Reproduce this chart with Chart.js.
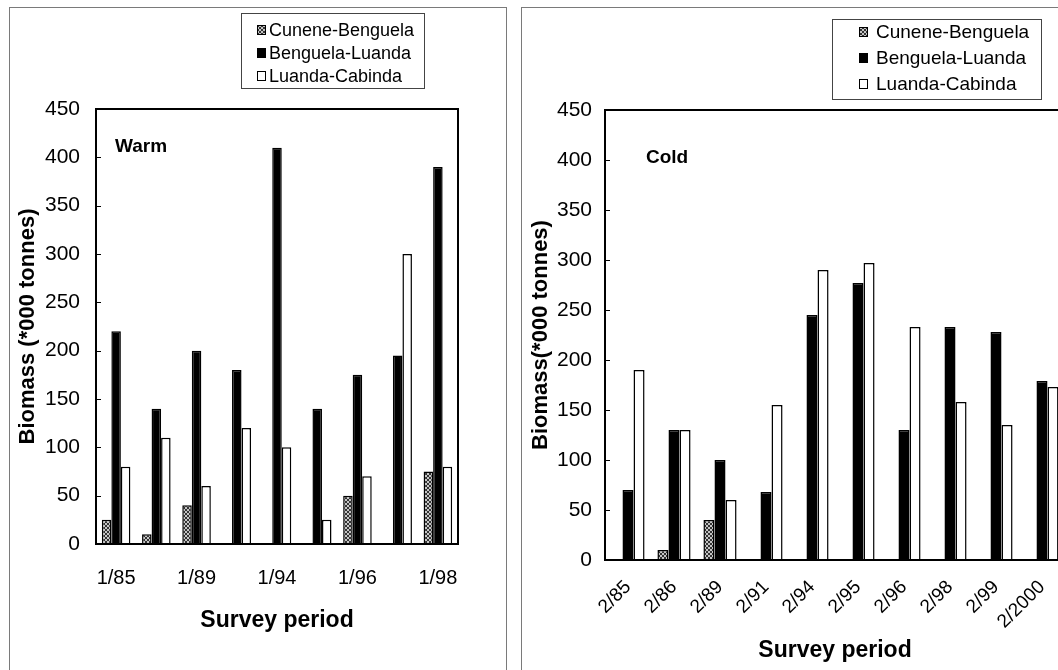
<!DOCTYPE html>
<html>
<head>
<meta charset="utf-8">
<script src="https://cdn.jsdelivr.net/npm/chart.js@4.4.1/dist/chart.umd.min.js"></script>
<style>
  html, body { margin: 0; padding: 0; background: #fff; width: 1058px; height: 670px; overflow: hidden; position: relative; }
  .panel { position: absolute; border: 1px solid #7a7a7a; border-bottom: none; }
  canvas { position: absolute; top: 0; }
</style>
</head>
<body>
<div class="panel" style="left:9px; top:7px; width:496px; height:700px;"></div>
<div class="panel" style="left:521px; top:7px; width:600px; height:700px; border-right:none;"></div>
<canvas id="chartWarm" width="515" height="670" style="left:0"></canvas>
<canvas id="chartCold" width="560" height="670" style="left:515px"></canvas>
<script>
// series names shared by both panels
var seriesNames = ['Cunene-Benguela', 'Benguela-Luanda', 'Luanda-Cabinda'];

// warm season surveys (only every second period is labelled on the axis)
var warmLabels = ['1/85', '', '1/89', '', '1/94', '', '1/96', '', '1/98'];
var warmCunene = [25, 10, 40, 0, 0, 0, 50, 0, 75];
var warmBenguela = [220, 140, 200, 180, 410, 140, 175, 195, 390];
var warmLuanda = [80, 110, 60, 120, 100, 25, 70, 300, 80];

// cold season surveys
var coldLabels = ['2/85', '2/86', '2/89', '2/91', '2/94', '2/95', '2/96', '2/98', '2/99', '2/2000'];
var coldCunene = [0, 10, 40, 0, 0, 0, 0, 0, 0, 0];
var coldBenguela = [70, 130, 100, 68, 245, 277, 130, 233, 228, 179];
var coldLuanda = [190, 130, 60, 155, 290, 297, 233, 158, 135, 173];

// biomass axis
var yMin = 0;
var yMax = 450;
var yStep = 50;

Chart.defaults.font.family = '"Liberation Sans", Arial, sans-serif';
Chart.defaults.color = '#000';

function makeHatch() {
    var c = document.createElement('canvas');
    c.width = 4;
    c.height = 4;
    var g = c.getContext('2d');
    g.fillStyle = '#c4c4c4';
    g.fillRect(0, 0, 4, 4);
    g.fillStyle = '#333';
    for (var i = 0; i < 4; i++) {
        g.fillRect(i, i, 1, 1);
        g.fillRect(3 - i, i, 1, 1);
    }
    return g.createPattern(c, 'repeat');
}

var hatch = makeHatch();

// box round the plot, small inward ticks and the season tag
var framePlugin = {
    id: 'frame',
    afterDatasetsDraw: function(chart, args, opts) {
        var ctx = chart.ctx;
        var a = chart.chartArea;
        var y = chart.scales.y;
        ctx.save();
        ctx.strokeStyle = '#000';
        ctx.lineWidth = 2;
        ctx.strokeRect(a.left, a.top, a.right - a.left, a.bottom - a.top);
        ctx.lineWidth = 1;
        for (var v = yMin; v <= yMax; v += yStep) {
            var py = Math.round(y.getPixelForValue(v)) + 0.5;
            ctx.beginPath();
            ctx.moveTo(a.left, py);
            ctx.lineTo(a.left + 5, py);
            ctx.stroke();
        }
        ctx.font = 'bold 19px "Liberation Sans", Arial, sans-serif';
        ctx.fillStyle = '#000';
        ctx.textBaseline = 'middle';
        ctx.fillText(opts.text, opts.x, opts.y);
        ctx.restore();
    }
};

// legend in a bordered box, one series per row
var legendBoxPlugin = {
    id: 'legendBox',
    afterDraw: function(chart, args, opts) {
        var ctx = chart.ctx;
        ctx.save();
        ctx.fillStyle = '#fff';
        ctx.fillRect(opts.x, opts.y, opts.w, opts.h);
        ctx.strokeStyle = '#444';
        ctx.lineWidth = 1;
        ctx.strokeRect(opts.x + 0.5, opts.y + 0.5, opts.w, opts.h);
        ctx.font = opts.size + 'px "Liberation Sans", Arial, sans-serif';
        ctx.textBaseline = 'middle';
        chart.data.datasets.forEach(function(ds, i) {
            var cy = opts.firstRow + i * opts.rowH;
            ctx.fillStyle = ds.backgroundColor;
            ctx.fillRect(opts.markX, cy - 5, 9, 10);
            ctx.strokeStyle = '#000';
            ctx.strokeRect(opts.markX + 0.5, cy - 4.5, 8, 9);
            ctx.fillStyle = '#000';
            ctx.fillText(ds.label, opts.textX, cy + 1);
        });
        ctx.restore();
    }
};

function buildChart(canvasId, labels, cunene, benguela, luanda, cfg) {
    var datasets = [
        { label: seriesNames[0], data: cunene, backgroundColor: hatch },
        { label: seriesNames[1], data: benguela, backgroundColor: '#000' },
        { label: seriesNames[2], data: luanda, backgroundColor: '#fff' }
    ];
    datasets.forEach(function(ds) {
        ds.borderColor = '#000';
        ds.borderWidth = 1.5;
        ds.barPercentage = 1.0;
        ds.categoryPercentage = cfg.groupWidth;
    });

    return new Chart(document.getElementById(canvasId), {
        type: 'bar',
        data: { labels: labels, datasets: datasets },
        options: {
            responsive: false,
            animation: false,
            layout: { padding: cfg.padding },
            plugins: {
                legend: { display: false },
                tooltip: { enabled: false },
                frame: cfg.tag,
                legendBox: cfg.legend
            },
            scales: {
                x: {
                    grid: { display: false },
                    border: { display: false },
                    ticks: {
                        autoSkip: false,
                        padding: cfg.xTickPad,
                        minRotation: cfg.rotation,
                        maxRotation: cfg.rotation,
                        font: { size: cfg.xTickSize }
                    },
                    title: {
                        display: true,
                        text: 'Survey period',
                        font: { size: 23, weight: 'bold' },
                        padding: { top: 0, bottom: cfg.xTitlePad }
                    },
                    afterFit: function(scale) { scale.height = cfg.xHeight; }
                },
                y: {
                    min: yMin,
                    max: yMax,
                    grid: { display: false, drawTicks: false },
                    border: { display: false },
                    ticks: { stepSize: yStep, padding: cfg.yTickPad, font: { size: 21 } },
                    title: {
                        display: true,
                        text: cfg.yTitle,
                        font: { size: 22, weight: 'bold' },
                        padding: 0
                    },
                    afterFit: function(scale) { scale.width = cfg.yWidth; }
                }
            }
        },
        plugins: [framePlugin, legendBoxPlugin]
    });
}

buildChart('chartWarm', warmLabels, warmCunene, warmBenguela, warmLuanda, {
    groupWidth: 0.71,
    padding: { left: 15, right: 57, top: 109, bottom: 0 },
    yWidth: 81,
    xHeight: 126,
    xTickPad: 14,
    xTickSize: 20,
    rotation: 0,
    xTitlePad: 36,
    yTickPad: 16,
    yTitle: 'Biomass (*000 tonnes)',
    tag: { text: 'Warm', x: 115, y: 147 },
    legend: { x: 241, y: 13, w: 183, h: 75, markX: 257, textX: 269, firstRow: 30, rowH: 23, size: 18 }
});

buildChart('chartCold', coldLabels, coldCunene, coldBenguela, coldLuanda, {
    groupWidth: 0.72,
    padding: { left: 13, right: 10, top: 110, bottom: 0 },
    yWidth: 77,
    xHeight: 110,
    xTickPad: 8,
    xTickSize: 19,
    rotation: 45,
    xTitlePad: 6,
    yTickPad: 13,
    yTitle: 'Biomass(*000 tonnes)',
    tag: { text: 'Cold', x: 131, y: 158 },
    legend: { x: 317, y: 19, w: 209, h: 80, markX: 344, textX: 361, firstRow: 32, rowH: 26, size: 19 }
});
</script>
</body>
</html>
